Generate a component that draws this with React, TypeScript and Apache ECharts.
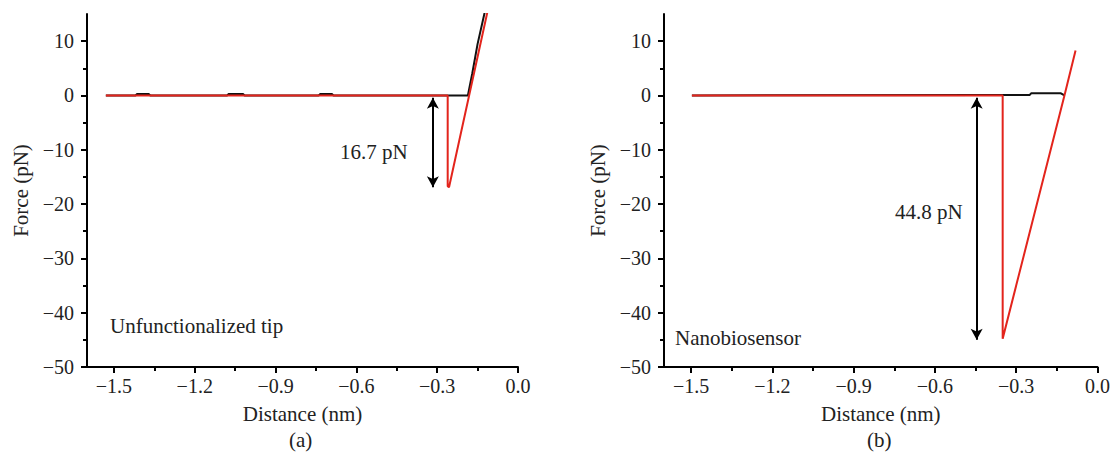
import React, { useEffect, useRef } from "react";
import * as echarts from "echarts";

// Panel (a): unfunctionalized tip
const aBlackX = [-1.53, -1.42, -1.415, -1.37, -1.365, -1.08, -1.075, -1.02, -1.015, -0.74, -0.735, -0.69, -0.685, -0.186, -0.17, -0.15, -0.125, -0.118];
const aBlackY = [0, 0, 0.25, 0.25, 0, 0, 0.25, 0.25, 0, 0, 0.25, 0.25, 0, 0, 4, 9.5, 15, 16.5];
const aRedX = [-1.53, -0.261, -0.261, -0.256, -0.113];
const aRedY = [0, 0, -16.7, -16.9, 15.5];
// Panel (b): nanobiosensor
const bBlackX = [-1.497, -0.4, -0.25, -0.245, -0.135, -0.122];
const bBlackY = [0, 0.1, 0.1, 0.4, 0.4, 0];
const bRedX = [-1.497, -0.35, -0.35, -0.349, -0.122, -0.081];
const bRedY = [0, 0, -44.8, -44.8, 0, 8.3];
// Rupture force annotations
const aArrowX = -0.316;
const aRupture = 16.7;
const bArrowX = -0.446;
const bRupture = 44.8;

const xMajor = [-1.5, -1.2, -0.9, -0.6, -0.3, 0];
const xMinor = [-1.35, -1.05, -0.75, -0.45, -0.15];
const yMajor = [-50, -40, -30, -20, -10, 0, 10];
const yMinor = [-45, -35, -25, -15, -5, 5];

const zip = (xs: number[], ys: number[]) => xs.map((x, i) => [x, ys[i]]);

const FONT = "Liberation Serif";
const FS = 20;
const FS2 = 21;
const RED = "#e3241c";
const BLACK = "#111111";
const TXT = "#222";

export default function App() {
  const ref = useRef<HTMLDivElement>(null);
  useEffect(() => {
    const chart = echarts.init(ref.current!, null, { renderer: "svg" });
    const mkX = (gi: number) => ({
      type: "value",
      gridIndex: gi,
      position: "bottom",
      min: -1.6,
      max: 0,
      name: "Distance (nm)",
      nameLocation: "middle",
      nameGap: 36,
      nameTextStyle: { fontFamily: FONT, fontSize: FS2, color: TXT },
      axisLine: { onZero: false, lineStyle: { color: "#000", width: 2 } },
      axisTick: { customValues: xMajor, length: 6, lineStyle: { color: "#000", width: 2 } },
      axisLabel: {
        customValues: xMajor,
        margin: 9,
        fontFamily: FONT,
        fontSize: FS,
        color: TXT,
        formatter: (v: number) => v.toFixed(1).replace("-", "\u2212"),
      },
      splitLine: { show: false },
    });
    const mkXMinor = (gi: number) => ({
      type: "value",
      gridIndex: gi,
      position: "bottom",
      offset: 0,
      min: -1.6,
      max: 0,
      axisLine: { show: false, onZero: false },
      axisTick: { customValues: xMinor, length: 4, lineStyle: { color: "#000", width: 2 } },
      axisLabel: { show: false },
      splitLine: { show: false },
    });
    const mkY = (gi: number) => ({
      type: "value",
      gridIndex: gi,
      position: "left",
      min: -50,
      max: 15,
      name: "Force (pN)",
      nameLocation: "middle",
      nameGap: 56,
      nameTextStyle: { fontFamily: FONT, fontSize: FS2, color: TXT },
      axisLine: { onZero: false, lineStyle: { color: "#000", width: 2 } },
      axisTick: { customValues: yMajor, length: 6, lineStyle: { color: "#000", width: 2 } },
      axisLabel: {
        customValues: yMajor,
        margin: 13,
        fontFamily: FONT,
        fontSize: FS,
        color: TXT,
        formatter: (v: number) => String(v).replace("-", "\u2212"),
      },
      splitLine: { show: false },
    });
    const mkYMinor = (gi: number) => ({
      type: "value",
      gridIndex: gi,
      position: "left",
      offset: 0,
      min: -50,
      max: 15,
      axisLine: { show: false, onZero: false },
      axisTick: { customValues: yMinor, length: 4, lineStyle: { color: "#000", width: 2 } },
      axisLabel: { show: false },
      splitLine: { show: false },
    });
    const arrow = (x: number, f: number) => ({
      silent: true,
      symbol: ["arrow", "arrow"],
      symbolSize: [9, 11],
      label: { show: false },
      lineStyle: { color: "#000", width: 2, type: "solid" },
      emphasis: { disabled: true },
      data: [[{ coord: [x, -0.4] }, { coord: [x, -f - 0.2] }]],
    });
    const line = (xi: number, data: number[][], color: string, extra: any = {}) => ({
      type: "line",
      xAxisIndex: xi,
      yAxisIndex: xi,
      data,
      symbol: "none",
      clip: true,
      lineStyle: { color, width: 2 },
      ...extra,
    });
    const txt = (text: string, left: number, top: number) => ({
      type: "text",
      left,
      top,
      style: { text, fontFamily: FONT, fontSize: FS2, fill: TXT },
    });
    chart.setOption({
      animation: false,
      backgroundColor: "#fff",
      grid: [
        { left: 87, top: 14, width: 431, height: 353 },
        { left: 664, top: 14, width: 434, height: 353 },
      ],
      xAxis: [mkX(0), mkX(1), mkXMinor(0), mkXMinor(1)],
      yAxis: [mkY(0), mkY(1), mkYMinor(0), mkYMinor(1)],
      series: [
        line(0, zip(aBlackX, aBlackY), BLACK),
        line(0, zip(aRedX, aRedY), RED, { markLine: arrow(aArrowX, aRupture) }),
        line(1, zip(bBlackX, bBlackY), BLACK),
        line(1, zip(bRedX, bRedY), RED, { markLine: arrow(bArrowX, bRupture) }),
      ],
      graphic: [
        txt(`${aRupture} pN`, 340, 141),
        txt(`${bRupture} pN`, 895, 201),
        txt("Unfunctionalized tip", 110, 315),
        txt("Nanobiosensor", 675, 327),
        txt("(a)", 289, 429),
        txt("(b)", 867, 429),
      ],
    });
    return () => chart.dispose();
  }, []);
  return (
    <div
      ref={ref}
      style={{ position: "fixed", left: 0, top: 0, width: 1113, height: 455, background: "#fff" }}
    />
  );
}
